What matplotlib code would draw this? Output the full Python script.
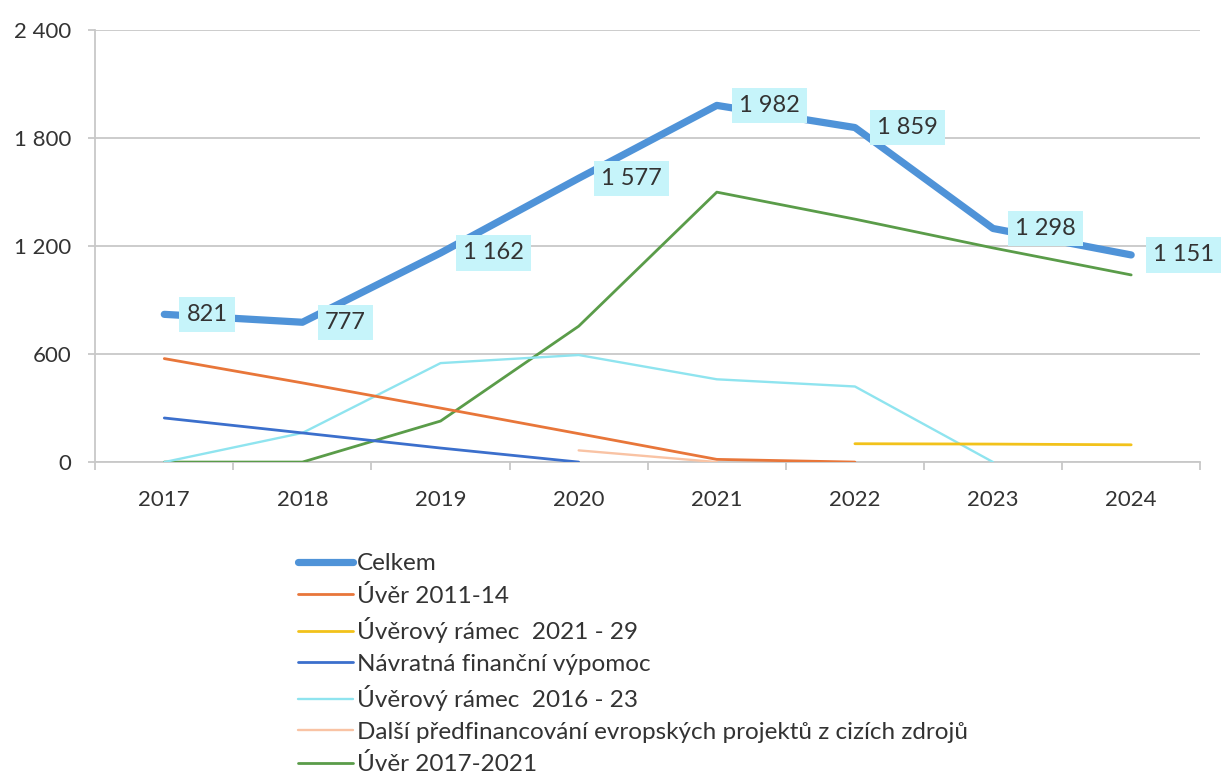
import numpy as np
import matplotlib.pyplot as plt
from matplotlib.ticker import FuncFormatter

years = ['2017', '2018', '2019', '2020', '2021', '2022', '2023', '2024']
nan = np.nan

celkem = [821, 777, 1162, 1577, 1982, 1859, 1298, 1151]
uver_2011 = [575, 440, 300, 158, 15, 0, nan, nan]
ramec_2021 = [nan, nan, nan, nan, nan, 102, 100, 96]
navratna = [245, 162, 78, 0, nan, nan, nan, nan]
ramec_2016 = [0, 162, 550, 595, 460, 420, 0, nan]
dalsi = [nan, nan, nan, 65, 0, nan, nan, nan]
uver_2017 = [0, 0, 228, 755, 1500, 1350, 1190, 1040]

series = [
    ('Celkem', celkem, '#4f93d8', 5.2),
    ('Úvěr 2011-14', uver_2011, '#e8763a', 2.0),
    ('Úvěrový rámec  2021 - 29', ramec_2021, '#f2c21a', 2.0),
    ('Návratná finanční výpomoc', navratna, '#3b6fcc', 2.0),
    ('Úvěrový rámec  2016 - 23', ramec_2016, '#8fe4ef', 1.7),
    ('Další předfinancování evropských projektů z cizích zdrojů', dalsi, '#f9c3a4', 1.7),
    ('Úvěr 2017-2021', uver_2017, '#5a9c49', 2.0),
]

plt.rcParams['font.family'] = ['Lato', 'DejaVu Sans']
text_color = '#333333'
grid_color = '#c8c8c8'

fig = plt.figure(figsize=(12.21, 7.74), dpi=100)
ax = fig.add_axes([0.078, 0.403, 0.905, 0.558])

x = np.arange(len(years))
handles = []
# draw the thin lines first, Celkem on top
for name, vals, color, lw in series[::-1]:
    line, = ax.plot(x, vals, color=color, lw=lw, solid_capstyle='round',
                    solid_joinstyle='round', label=name,
                    zorder=4 if name == 'Celkem' else 3)
    handles.append(line)
handles = handles[::-1]

for xi, v in zip(x, celkem):
    ax.annotate(f'{v:,}'.replace(',', ' '), (xi, v), xytext=(16, 0),
                textcoords='offset points', ha='left', va='center',
                fontsize=17, color=text_color, zorder=5,
                bbox=dict(boxstyle='square,pad=0.3', fc='#c6f4fa', ec='none'))

ax.set_xlim(-0.5, len(years) - 0.5)
ax.set_ylim(0, 2400)
ax.set_yticks([0, 600, 1200, 1800, 2400])
ax.yaxis.set_major_formatter(FuncFormatter(lambda v, p: f'{int(v):,}'.replace(',', ' ')))
ax.set_xticks(x)
ax.set_xticklabels(years)
ax.set_xticks(np.arange(len(years) + 1) - 0.5, minor=True)

ax.grid(axis='y', color=grid_color, lw=1.3)
ax.set_axisbelow(True)
for side in ['top', 'right']:
    ax.spines[side].set_visible(False)
for side in ['left', 'bottom']:
    ax.spines[side].set_color(grid_color)
    ax.spines[side].set_linewidth(1.3)

ax.tick_params(axis='y', length=5, color=grid_color, width=1.3,
               labelsize=16, labelcolor=text_color, pad=12)
ax.tick_params(axis='x', which='major', length=0, labelsize=16,
               labelcolor=text_color, pad=20)
ax.tick_params(axis='x', which='minor', length=6, color=grid_color, width=1.3)

fig.legend(handles=handles, loc='upper left', bbox_to_anchor=(0.244, 0.285),
           frameon=False, fontsize=17.5, handlelength=2.25, handletextpad=0.17,
           labelspacing=0.43, borderpad=0, borderaxespad=0, labelcolor=text_color)

fig.savefig('out.png', dpi=100)
